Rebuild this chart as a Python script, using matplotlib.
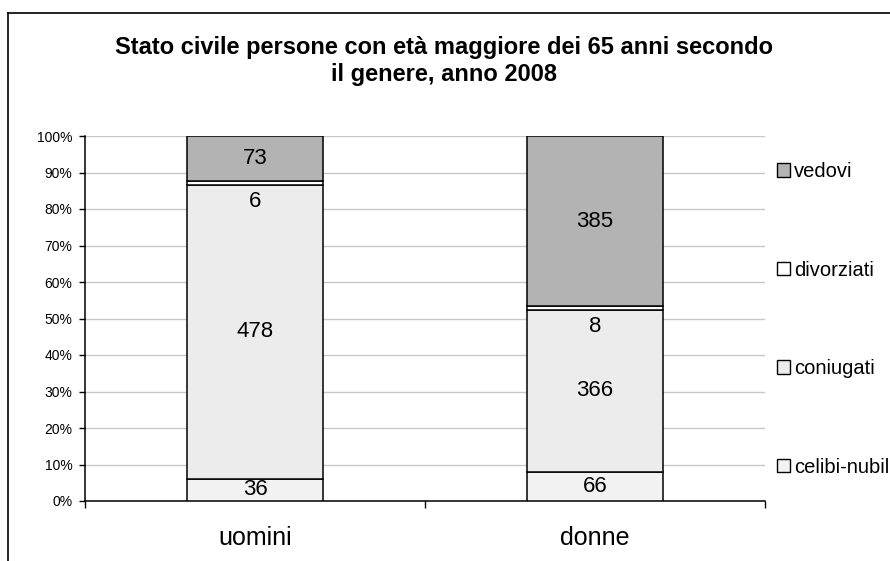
import matplotlib
matplotlib.use("Agg")
import matplotlib.pyplot as plt
from matplotlib.patches import Patch
from matplotlib.lines import Line2D
import numpy as np

plt.rcParams['font.family'] = ['Liberation Sans', 'DejaVu Sans']

categorie = ['uomini', 'donne']
# l'ultima etichetta appare troncata nel grafico originale
serie = ['celibi-nubil', 'coniugati', 'divorziati', 'vedovi']
celibi = [36, 66]
coniugati = [478, 366]
divorziati = [6, 8]
vedovi = [73, 385]
colori = ['#f2f2f2', '#ececec', '#ffffff', '#b3b3b3']


def main():
    valori = np.array([celibi, coniugati, divorziati, vedovi], dtype=float)
    totali = valori.sum(axis=0)
    perc = valori / totali * 100

    fig = plt.figure(figsize=(8.9, 5.61), dpi=100)
    ax = fig.add_axes([85 / 890, 1 - 501 / 561, 680 / 890, 365 / 561])

    x = np.arange(len(categorie))
    base = np.zeros(len(categorie))
    for i, nome in enumerate(serie):
        ax.bar(x, perc[i], 0.4, bottom=base, color=colori[i],
               edgecolor='black', linewidth=1.1, label=nome, zorder=3)
        for j in range(len(categorie)):
            yc = base[j] + perc[i][j] / 2
            if nome == 'divorziati':
                yc -= 5.0
            ax.text(x[j], yc, '%d' % valori[i][j], ha='center', va='center',
                    fontsize=16, zorder=4)
        base = base + perc[i]

    ax.set_xlim(-0.5, 1.5)
    ax.set_ylim(0, 100)
    ax.set_yticks(np.arange(0, 101, 10))
    ax.set_yticklabels(['%d%%' % v for v in range(0, 101, 10)], fontsize=10)
    ax.yaxis.grid(True, color='#c8c8c8', linewidth=1.0, zorder=0)
    ax.set_axisbelow(True)
    ax.tick_params(axis='y', direction='out', length=4, width=1, pad=5)

    ax.set_xticks(x)
    ax.set_xticklabels(categorie, fontsize=18)
    ax.set_xticks([-0.5, 0.5, 1.5], minor=True)
    ax.tick_params(axis='x', which='major', length=0, pad=18)
    ax.tick_params(axis='x', which='minor', direction='out', length=5, width=1)

    for s in ['top', 'right']:
        ax.spines[s].set_visible(False)
    for s in ['left', 'bottom']:
        ax.spines[s].set_color('black')
        ax.spines[s].set_linewidth(1.1)

    fig.text(444 / 890, 1 - 61 / 561,
             'Stato civile persone con età maggiore dei 65 anni secondo\nil genere, anno 2008',
             ha='center', va='center', fontsize=17, fontweight='bold',
             linespacing=1.2)

    handles = [Patch(facecolor=colori[i], edgecolor='black', linewidth=1.0)
               for i in range(len(serie))][::-1]
    ax.legend(handles, serie[::-1], loc='upper left',
              bbox_to_anchor=(777 / 890, 1 - 162 / 561),
              bbox_transform=fig.transFigure, frameon=False,
              fontsize=14.5, handlelength=0.65, handleheight=0.65,
              handletextpad=0.2, labelspacing=3.95, borderpad=0,
              borderaxespad=0)

    # bordo del grafico
    fig.add_artist(Line2D([8 / 890, 8 / 890], [0, 1 - 13 / 561],
                          transform=fig.transFigure, color='black', linewidth=1.2))
    fig.add_artist(Line2D([8 / 890, 1], [1 - 13 / 561, 1 - 13 / 561],
                          transform=fig.transFigure, color='black', linewidth=1.2))

    fig.savefig('out.png', dpi=100)


if __name__ == '__main__':
    main()
